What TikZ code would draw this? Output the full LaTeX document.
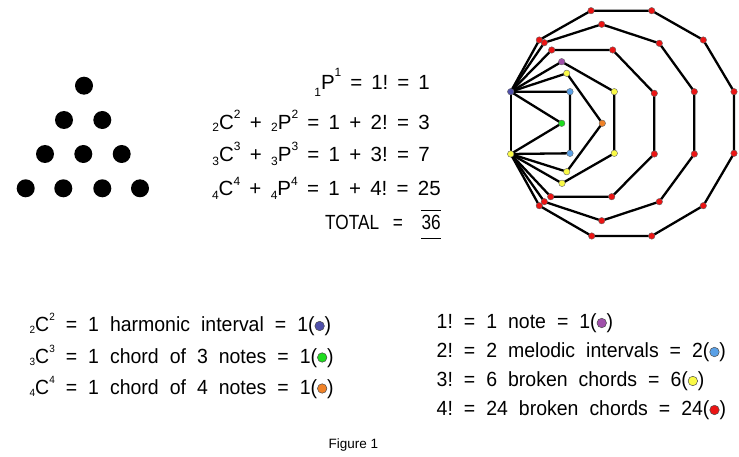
\documentclass[tikz,border=0pt]{standalone}
\usepackage{fontspec}
\setmainfont{Liberation Sans}
\newfontfamily\eqfam[FakeStretch=0.84]{Liberation Sans}
\newfontfamily\legfam[FakeStretch=0.95]{Liberation Sans}
\definecolor{cHarm}{RGB}{80,80,170}
\definecolor{cGreen}{RGB}{30,220,30}
\definecolor{cOrange}{RGB}{240,130,40}
\definecolor{cPurple}{RGB}{160,80,170}
\definecolor{cBlue}{RGB}{90,160,230}
\definecolor{cYellow}{RGB}{250,250,70}
\definecolor{cRed}{RGB}{235,20,20}
\newcommand\scr[2]{\raisebox{#1}{\fontsize{12}{13}\selectfont #2}}
\newcommand\lsub[1]{\raisebox{-2pt}{\fontsize{10.5}{11}\selectfont #1}}
\newcommand\lsup[1]{\raisebox{11pt}{\fontsize{10.5}{11}\selectfont #1}}
\newcommand\legdot[1]{\tikz[baseline=-5.5pt]\node[circle,inner sep=0pt,minimum size=9.5pt,fill=#1,draw=black!70,line width=0.5pt]{};}
\newcommand\eqfont{\fontsize{20.5}{23}\selectfont\frenchspacing\spaceskip 9.3pt\relax}
\newcommand\eqfontA{\fontsize{20.5}{23}\selectfont\frenchspacing\spaceskip 9pt\relax}
\newcommand\totfont{\eqfam\fontsize{20.5}{23}\selectfont}
\newcommand\legfont{\legfam\fontsize{20.5}{23}\selectfont\frenchspacing\spaceskip 11pt\relax}
\tikzset{
  eq/.style={font={\eqfont}, inner sep=0pt, anchor=base east},
  tot/.style={font={\totfont}, inner sep=0pt},
  leg/.style={font={\legfont}, inner sep=0pt, anchor=base west},
  bigdot/.style={circle, fill=black, inner sep=0pt, minimum size=18pt},
  pdot/.style={circle, inner sep=0pt, minimum size=6.5pt, draw=black!60, line width=0.4pt},
  pedge/.style={line width=2.3pt, line join=round},
}
\begin{document}
\begin{tikzpicture}[x=1pt,y=-1pt]
\useasboundingbox (0,0) rectangle (739,457);
\fill[white] (0,0) rectangle (739,457);
% triangle of dots
\node[bigdot] (t1) at (84,85.7) {};
\node[bigdot] (t2) at (64,120) {};
\node[bigdot] (t3) at (102.3,120) {};
\node[bigdot] (t4) at (45,154) {};
\node[bigdot] (t5) at (83.3,154) {};
\node[bigdot] (t6) at (121.7,154) {};
\node[bigdot] (t7) at (25.7,188.3) {};
\node[bigdot] (t8) at (63.3,188.3) {};
\node[bigdot] (t9) at (102.3,188.3) {};
\node[bigdot] (t10) at (140,188.3) {};
% equations
\node[eq, font={\eqfontA}] (e1) at (430,89.5) {\scr{-7pt}{1}P\scr{12.5pt}{1} = 1! = 1};
\node[eq] (e2) at (430,129.5) {\scr{-2.5pt}{2}C\scr{10.5pt}{2} + \scr{-2.5pt}{2}P\scr{10.5pt}{2} = 1 + 2! = 3};
\node[eq] (e3) at (430,161.5) {\scr{-4pt}{3}C\scr{10.5pt}{3} + \scr{-4pt}{3}P\scr{10.5pt}{3} = 1 + 3! = 7};
\node[eq] (e4) at (441,196) {\scr{-4pt}{4}C\scr{10.5pt}{4} + \scr{-4pt}{4}P\scr{10.5pt}{4} = 1 + 4! = 25};
\node[tot, anchor=base east] (tot36) at (441,230) {36};
\node[tot, anchor=base west] (totl) at (325,230) {TOTAL};
\node[tot, anchor=base] (toteq) at (398,230) {=};
\draw[line width=1.3pt] ([yshift=19.5pt]tot36.base west) -- ([yshift=19.5pt]tot36.base east);
\draw[line width=1.3pt] ([yshift=-8.5pt]tot36.base west) -- ([yshift=-8.5pt]tot36.base east);
% polygon figure coordinates
\coordinate (hb) at (510.7,91.7);
\coordinate (hy) at (510.7,154);
\coordinate (g) at (561.7,123.3);
\coordinate (b1) at (570,91.7);
\coordinate (b2) at (570,153.3);
\coordinate (y1) at (566.7,73.3);
\coordinate (o) at (602.3,123.3);
\coordinate (y4) at (566.7,171.7);
\coordinate (pu) at (561.7,61.7);
\coordinate (y2) at (614.3,91.7);
\coordinate (y3) at (614.3,153.3);
\coordinate (y5) at (562,183.3);
\coordinate (a1) at (551.7,50);
\coordinate (a2) at (612.7,50);
\coordinate (a3) at (654.3,93.3);
\coordinate (a4) at (654.3,154);
\coordinate (a5) at (611.7,196.7);
\coordinate (a6) at (550.7,196.7);
\coordinate (c1) at (544.3,42.7);
\coordinate (c2) at (601.7,24.3);
\coordinate (c3) at (659.3,43.3);
\coordinate (c4) at (694.3,91.7);
\coordinate (c5) at (694.3,154);
\coordinate (c6) at (659.3,201.7);
\coordinate (c7) at (601.7,220.7);
\coordinate (c8) at (544.3,201.7);
\coordinate (d1) at (539.3,40);
\coordinate (d2) at (591,10.7);
\coordinate (d3) at (651.7,10.7);
\coordinate (d4) at (703.3,40);
\coordinate (d5) at (734,91.7);
\coordinate (d6) at (734,153.3);
\coordinate (d7) at (703.3,205.7);
\coordinate (d8) at (651.7,236);
\coordinate (d9) at (591.7,236);
\coordinate (d10) at (539.3,205.7);
% edges
\draw[pedge] (hb) -- (hy);
\draw[pedge] (hb) -- (g) -- (hy);
\draw[pedge] (hb) -- (b1) -- (b2) -- (hy);
\draw[pedge] (hb) -- (y1) -- (o) -- (y4) -- (hy);
\draw[pedge] (hb) -- (pu) -- (y2) -- (y3) -- (y5) -- (hy);
\draw[pedge] (hb) -- (a1) -- (a2) -- (a3) -- (a4) -- (a5) -- (a6) -- (hy);
\draw[pedge] (hb) -- (c1) -- (c2) -- (c3) -- (c4) -- (c5) -- (c6) -- (c7) -- (c8) -- (hy);
\draw[pedge] (hb) -- (d1) -- (d2) -- (d3) -- (d4) -- (d5) -- (d6) -- (d7) -- (d8) -- (d9) -- (d10) -- (hy);
% dots
\node[pdot, fill=cHarm] (nhb) at (hb) {};
\node[pdot, fill=cYellow] (nhy) at (hy) {};
\node[pdot, fill=cGreen] (ng) at (g) {};
\node[pdot, fill=cBlue] (nb1) at (b1) {};
\node[pdot, fill=cBlue] (nb2) at (b2) {};
\node[pdot, fill=cOrange] (no) at (o) {};
\node[pdot, fill=cPurple] (npu) at (pu) {};
\foreach \p in {y1,y2,y3,y4,y5} \node[pdot, fill=cYellow] (n\p) at (\p) {};
\foreach \p in {a1,a2,a3,a4,a5,a6,c1,c2,c3,c4,c5,c6,c7,c8,d1,d2,d3,d4,d5,d6,d7,d8,d9,d10} \node[pdot, fill=cRed] (n\p) at (\p) {};
% legend left
\node[leg] (l1) at (29.5,331.5) {\lsub{2}C\lsup{2} = 1 harmonic interval = 1(\legdot{cHarm})};
\node[leg] (l2) at (29.5,363) {\lsub{3}C\lsup{3} = 1 chord of 3 notes = 1(\legdot{cGreen})};
\node[leg] (l3) at (29.5,394) {\lsub{4}C\lsup{4} = 1 chord of 4 notes = 1(\legdot{cOrange})};
% legend right
\node[leg] (r1) at (436.5,328.5) {1! = 1 note = 1(\legdot{cPurple})};
\node[leg] (r2) at (436.5,357.5) {2! = 2 melodic intervals = 2(\legdot{cBlue})};
\node[leg] (r3) at (436.5,386.5) {3! = 6 broken chords = 6(\legdot{cYellow})};
\node[leg] (r4) at (436.5,415.5) {4! = 24 broken chords = 24(\legdot{cRed})};
% caption
\node[font=\fontsize{13.5}{15}\selectfont, inner sep=0pt, anchor=base] (cap) at (353.5,448) {Figure 1};
\end{tikzpicture}
\end{document}
